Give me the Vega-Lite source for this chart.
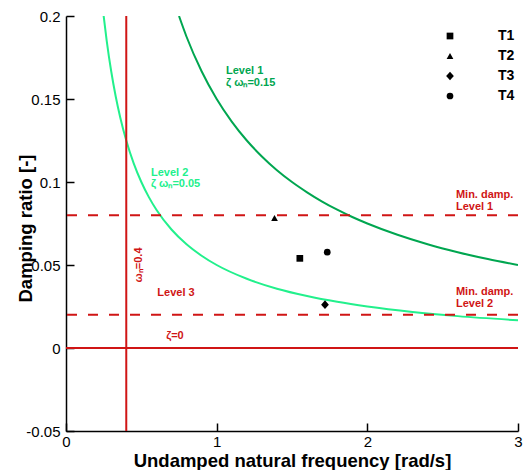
{
  "$schema": "https://vega.github.io/schema/vega-lite/v6.json",
  "width": 452,
  "height": 415,
  "autosize": {"type": "none"},
  "padding": {"left": 66, "top": 16, "right": 11, "bottom": 39},
  "background": "white",
  "config": {
    "font": "Liberation Sans",
    "view": {"stroke": null},
    "axis": {
      "grid": false,
      "domainColor": "black",
      "domainWidth": 1.5,
      "tickColor": "black",
      "tickWidth": 1.5,
      "tickSize": -8,
      "labelFlush": false,
      "labelFont": "Liberation Sans",
      "labelFontSize": 15,
      "labelColor": "black",
      "titleFont": "Liberation Sans",
      "titleFontSize": 18.5,
      "titleFontWeight": "bold",
      "titleColor": "black"
    }
  },
  "datasets": {
    "curves": [
      {"series": "Level 1", "x": 0.75, "y": 0.2},
      {"series": "Level 1", "x": 0.8, "y": 0.1875},
      {"series": "Level 1", "x": 0.9, "y": 0.1667},
      {"series": "Level 1", "x": 1.0, "y": 0.15},
      {"series": "Level 1", "x": 1.1, "y": 0.1364},
      {"series": "Level 1", "x": 1.2, "y": 0.125},
      {"series": "Level 1", "x": 1.3, "y": 0.1154},
      {"series": "Level 1", "x": 1.4, "y": 0.1071},
      {"series": "Level 1", "x": 1.5, "y": 0.1},
      {"series": "Level 1", "x": 1.6, "y": 0.0938},
      {"series": "Level 1", "x": 1.7, "y": 0.0882},
      {"series": "Level 1", "x": 1.8, "y": 0.0833},
      {"series": "Level 1", "x": 1.9, "y": 0.0789},
      {"series": "Level 1", "x": 2.0, "y": 0.075},
      {"series": "Level 1", "x": 2.2, "y": 0.0682},
      {"series": "Level 1", "x": 2.4, "y": 0.0625},
      {"series": "Level 1", "x": 2.6, "y": 0.0577},
      {"series": "Level 1", "x": 2.8, "y": 0.0536},
      {"series": "Level 1", "x": 3.0, "y": 0.05},
      {"series": "Level 2", "x": 0.25, "y": 0.2},
      {"series": "Level 2", "x": 0.27, "y": 0.1852},
      {"series": "Level 2", "x": 0.3, "y": 0.1667},
      {"series": "Level 2", "x": 0.33, "y": 0.1515},
      {"series": "Level 2", "x": 0.36, "y": 0.1389},
      {"series": "Level 2", "x": 0.4, "y": 0.125},
      {"series": "Level 2", "x": 0.45, "y": 0.1111},
      {"series": "Level 2", "x": 0.5, "y": 0.1},
      {"series": "Level 2", "x": 0.55, "y": 0.0909},
      {"series": "Level 2", "x": 0.6, "y": 0.0833},
      {"series": "Level 2", "x": 0.7, "y": 0.0714},
      {"series": "Level 2", "x": 0.8, "y": 0.0625},
      {"series": "Level 2", "x": 0.9, "y": 0.0556},
      {"series": "Level 2", "x": 1.0, "y": 0.05},
      {"series": "Level 2", "x": 1.2, "y": 0.0417},
      {"series": "Level 2", "x": 1.4, "y": 0.0357},
      {"series": "Level 2", "x": 1.6, "y": 0.0313},
      {"series": "Level 2", "x": 1.8, "y": 0.0278},
      {"series": "Level 2", "x": 2.0, "y": 0.025},
      {"series": "Level 2", "x": 2.3, "y": 0.0217},
      {"series": "Level 2", "x": 2.6, "y": 0.0192},
      {"series": "Level 2", "x": 3.0, "y": 0.0167}
    ],
    "minDamp": [{"name": "Min. damp. Level 1", "y": 0.08}, {"name": "Min. damp. Level 2", "y": 0.02}],
    "zeroLine": [{"name": "zeta=0", "y": 0}],
    "freqLine": [{"name": "omega=0.4", "x": 0.4}],
    "tests": [
      {"test": "T1", "x": 1.552, "y": 0.054},
      {"test": "T2", "x": 1.384, "y": 0.0783},
      {"test": "T3", "x": 1.719, "y": 0.0261},
      {"test": "T4", "x": 1.734, "y": 0.0577}
    ],
    "labels": [
      {"series": "Level 1", "x": 1.062, "y": 0.1669, "text": "Level 1"},
      {"series": "Level 1", "x": 1.062, "y": 0.1597, "text": "ζ ωₙ=0.15"},
      {"series": "Level 2", "x": 0.564, "y": 0.1055, "text": "Level 2"},
      {"series": "Level 2", "x": 0.564, "y": 0.0989, "text": "ζ ωₙ=0.05"},
      {"series": "Red", "x": 2.588, "y": 0.0919, "text": "Min. damp."},
      {"series": "Red", "x": 2.588, "y": 0.0849, "text": "Level 1"},
      {"series": "Red", "x": 2.588, "y": 0.0336, "text": "Min. damp."},
      {"series": "Red", "x": 2.588, "y": 0.0268, "text": "Level 2"}
    ],
    "centerLabels": [
      {"series": "Red", "x": 0.73, "y": 0.0333, "text": "Level 3"},
      {"series": "Red", "x": 0.723, "y": 0.0074, "text": "ζ=0"}
    ],
    "vertLabels": [
      {"series": "Red", "x": 0.4845, "y": 0.05, "text": "ωₙ=0.4"}
    ]
  },
  "layer": [
    {
      "data": {"name": "curves"},
      "mark": {"type": "line", "strokeWidth": 2, "interpolate": "monotone", "clip": true},
      "encoding": {
        "x": {
          "field": "x", "type": "quantitative",
          "scale": {"domain": [0, 3], "nice": false, "zero": false},
          "axis": {
            "values": [0, 1, 2, 3],
            "labelExpr": "format(datum.value, '~g')",
            "title": "Undamped natural frequency [rad/s]",
            "labelPadding": 11,
            "titleX": 226,
            "titleY": 29,
            "titleBaseline": "middle"
          }
        },
        "y": {
          "field": "y", "type": "quantitative",
          "scale": {"domain": [-0.05, 0.2], "nice": false, "zero": false},
          "axis": {
            "values": [-0.05, 0, 0.05, 0.1, 0.15, 0.2],
            "labelExpr": "replace(format(datum.value, '~g'), '−', '-')",
            "title": "Damping ratio [-]",
            "labelPadding": 14,
            "titleX": -41,
            "titleY": 212,
            "titleBaseline": "middle"
          }
        },
        "color": {
          "field": "series", "type": "nominal",
          "scale": {"domain": ["Level 1", "Level 2", "Red"], "range": ["#00a650", "#22f08c", "#d01515"]},
          "legend": null
        },
        "detail": {"field": "series"}
      }
    },
    {
      "data": {"name": "minDamp"},
      "mark": {"type": "rule", "color": "#d01515", "strokeWidth": 2, "strokeDash": [10, 11]},
      "encoding": {"y": {"field": "y", "type": "quantitative"}}
    },
    {
      "data": {"name": "zeroLine"},
      "mark": {"type": "rule", "color": "#d01515", "strokeWidth": 2},
      "encoding": {"y": {"field": "y", "type": "quantitative"}}
    },
    {
      "data": {"name": "freqLine"},
      "mark": {"type": "rule", "color": "#d01515", "strokeWidth": 2},
      "encoding": {"x": {"field": "x", "type": "quantitative"}}
    },
    {
      "data": {"name": "labels"},
      "mark": {"type": "text", "align": "left", "baseline": "middle", "fontSize": 11, "fontWeight": "bold", "font": "Liberation Sans"},
      "encoding": {
        "x": {"field": "x", "type": "quantitative"},
        "y": {"field": "y", "type": "quantitative"},
        "text": {"field": "text"},
        "color": {"field": "series", "type": "nominal", "legend": null}
      }
    },
    {
      "data": {"name": "centerLabels"},
      "mark": {"type": "text", "align": "center", "baseline": "middle", "fontSize": 11, "fontWeight": "bold", "font": "Liberation Sans"},
      "encoding": {
        "x": {"field": "x", "type": "quantitative"},
        "y": {"field": "y", "type": "quantitative"},
        "text": {"field": "text"},
        "color": {"field": "series", "type": "nominal", "legend": null}
      }
    },
    {
      "data": {"name": "vertLabels"},
      "mark": {"type": "text", "align": "center", "baseline": "middle", "angle": 270, "fontSize": 11, "fontWeight": "bold", "font": "Liberation Sans"},
      "encoding": {
        "x": {"field": "x", "type": "quantitative"},
        "y": {"field": "y", "type": "quantitative"},
        "text": {"field": "text"},
        "color": {"field": "series", "type": "nominal", "legend": null}
      }
    },
    {
      "data": {"name": "tests"},
      "mark": {"type": "point", "filled": true, "color": "black", "opacity": 1, "size": 45},
      "encoding": {
        "x": {"field": "x", "type": "quantitative"},
        "y": {"field": "y", "type": "quantitative"},
        "shape": {
          "field": "test", "type": "nominal",
          "scale": {"domain": ["T1", "T2", "T3", "T4"], "range": ["square", "triangle-up", "M0,-1.3L1.15,0L0,1.3L-1.15,0Z", "circle"]},
          "legend": {
            "title": null,
            "orient": "none",
            "legendX": 377,
            "legendY": 13,
            "padding": 0,
            "labelFont": "Liberation Sans",
            "labelFontSize": 14,
            "labelFontWeight": "bold",
            "labelColor": "black",
            "labelOffset": 41,
            "rowPadding": 6,
            "symbolSize": 45,
            "symbolFillColor": "black",
            "symbolStrokeColor": "black",
            "symbolStrokeWidth": 0
          }
        }
      }
    }
  ]
}
